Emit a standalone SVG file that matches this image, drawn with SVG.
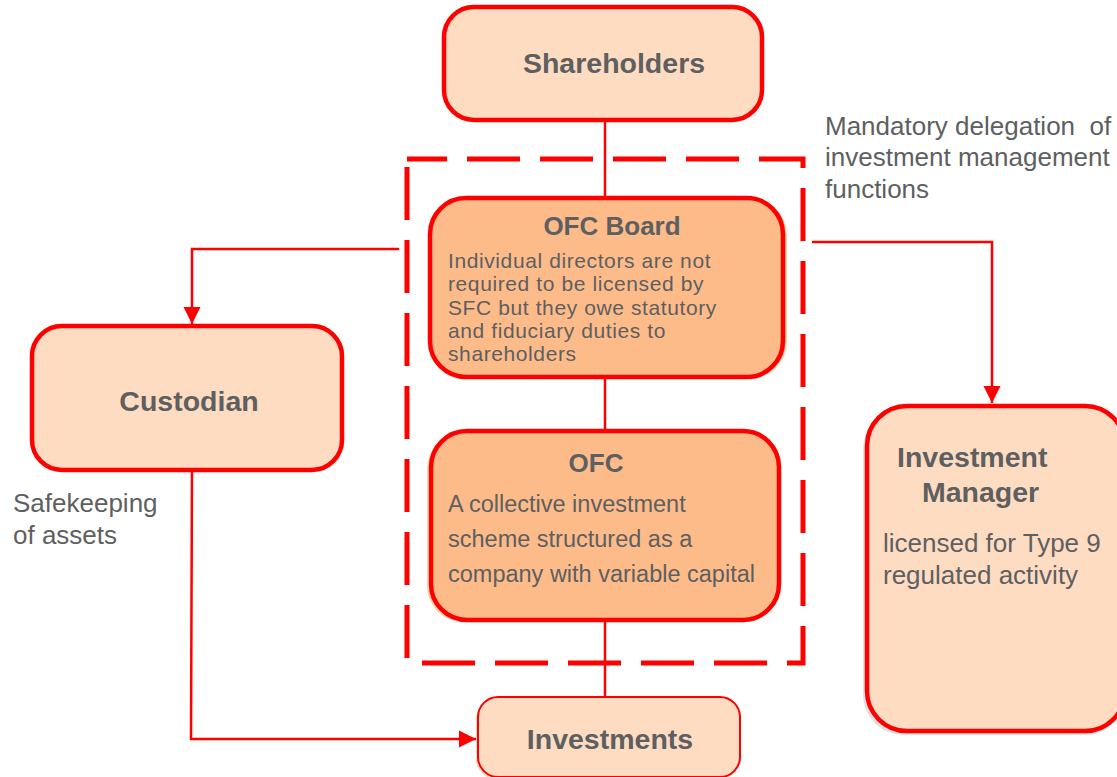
<svg xmlns="http://www.w3.org/2000/svg" width="1117" height="777" viewBox="0 0 1117 777">
  <style>
    .box { stroke: #FF0000; stroke-width: 4.5; }
    .light { fill: #FEDCC1; }
    .dark { fill: #FDBB89; }
    .title { font-family: "Liberation Sans", Arial, sans-serif; font-weight: bold; fill: #5E5F61; font-size: 28.5px; }
    .sub { font-family: "Liberation Sans", Arial, sans-serif; font-weight: bold; fill: #5E5F61; font-size: 26px; }
    .body { font-family: "Liberation Sans", Arial, sans-serif; fill: #5E5F61; font-size: 23.5px; }
    .tight { font-family: "Liberation Sans", Arial, sans-serif; fill: #5E5F61; font-size: 21px; letter-spacing: 0.6px; }
    .note { font-family: "Liberation Sans", Arial, sans-serif; fill: #5E5F61; font-size: 26px; white-space: pre; }
    .link { fill: none; stroke: #FF0000; stroke-width: 2.5; }
  </style>
  <defs>
    <marker id="arrow" viewBox="0 0 10 10" refX="10" refY="5" markerWidth="7" markerHeight="7" markerUnits="strokeWidth" orient="auto">
      <path d="M0,0 L10,5 L0,10 z" fill="#FF0000"/>
    </marker>
  </defs>
  <rect width="1117" height="777" fill="#FFFFFF"/>

  <!-- connectors -->
  <g id="connectors">
    <line class="link" x1="605" y1="120" x2="605" y2="198"/>
    <line class="link" x1="605" y1="377" x2="605" y2="431"/>
    <line class="link" x1="605" y1="620" x2="605" y2="698"/>
    <polyline class="link" points="399,249 192,249 192,324" marker-end="url(#arrow)"/>
    <polyline class="link" points="812,242 992,242 992,403" marker-end="url(#arrow)"/>
    <polyline class="link" points="192,470 191,739 476,739" marker-end="url(#arrow)"/>
  </g>

  <!-- OFC boundary -->
  <rect id="ofc-boundary" x="407" y="159" width="396" height="504" fill="none" stroke="#FF0000" stroke-width="5" stroke-dasharray="53 20" stroke-dashoffset="13"/>

  <g id="shareholders">
    <rect class="box light" x="444" y="7" width="318" height="113" rx="30"/>
    <text class="title" x="614" y="73" text-anchor="middle">Shareholders</text>
  </g>

  <g id="ofc-board">
    <rect x="433" y="199" width="354" height="179" rx="36" fill="#FDD3B2"/>
    <rect class="box dark" x="430" y="198" width="353" height="179" rx="36"/>
    <text class="sub" x="612" y="235" text-anchor="middle">OFC Board</text>
    <text class="tight" x="448" y="268">Individual directors are not</text>
    <text class="tight" x="448" y="291">required to be licensed by</text>
    <text class="tight" x="448" y="315">SFC but they owe statutory</text>
    <text class="tight" x="448" y="338">and fiduciary duties to</text>
    <text class="tight" x="448" y="361">shareholders</text>
  </g>

  <g id="ofc">
    <rect x="427" y="433" width="352" height="189" rx="36" fill="#FDD3B2"/>
    <rect class="box dark" x="431" y="431" width="348" height="189" rx="36"/>
    <text class="sub" x="596" y="472" text-anchor="middle">OFC</text>
    <text class="body" x="448" y="512">A collective investment</text>
    <text class="body" x="448" y="547">scheme structured as a</text>
    <text class="body" x="448" y="582">company with variable capital</text>
  </g>

  <g id="custodian">
    <rect class="box light" x="32" y="326" width="310" height="144" rx="30"/>
    <text class="title" x="189" y="411" text-anchor="middle">Custodian</text>
  </g>

  <g id="investment-manager">
    <rect x="863" y="409" width="262" height="326" rx="40" fill="#E2E2E2"/>
    <rect class="box light" x="867" y="406" width="258" height="325" rx="40"/>
    <text class="title" x="897" y="467">Investment</text>
    <text class="title" x="922" y="502">Manager</text>
    <text class="note" x="883" y="552">licensed for Type 9</text>
    <text class="note" x="883" y="584">regulated activity</text>
  </g>

  <g id="investments">
    <rect x="476" y="699" width="264" height="80" rx="20" fill="#CFE3C8"/>
    <rect x="478" y="697" width="262" height="80" rx="20" class="light" stroke="#FF0000" stroke-width="2"/>
    <text class="title" x="610" y="749" text-anchor="middle">Investments</text>
  </g>

  <!-- labels -->
  <g id="labels">
    <text class="note" x="13" y="512">Safekeeping</text>
    <text class="note" x="13" y="544">of assets</text>
    <text class="note" x="825" y="135">Mandatory delegation  of</text>
    <text class="note" x="825" y="166">investment management</text>
    <text class="note" x="825" y="198">functions</text>
  </g>
</svg>
